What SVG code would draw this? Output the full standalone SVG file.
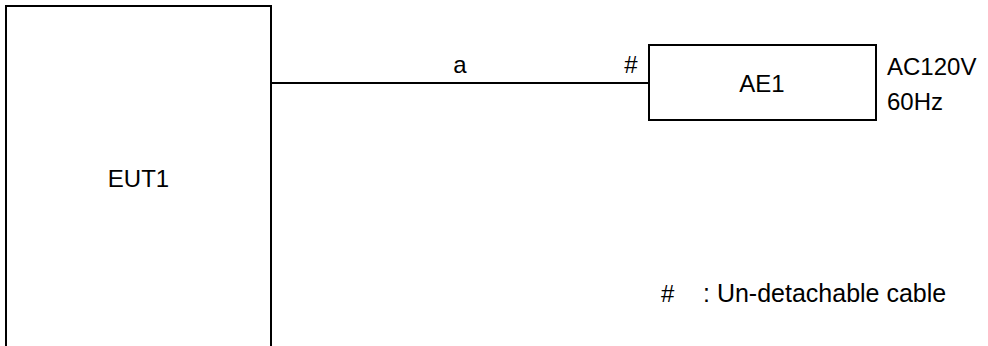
<svg xmlns="http://www.w3.org/2000/svg" width="988" height="346" viewBox="0 0 988 346">
  <style>
    .box { fill: #ffffff; stroke: #000000; stroke-width: 2; }
    .wire { fill: none; stroke: #000000; stroke-width: 2; }
    text { font-family: "Liberation Sans", Arial, sans-serif; font-size: 24px; fill: #000000; }
    .note { font-size: 25px; }
  </style>
  <rect width="988" height="346" fill="#ffffff"/>
  <g id="connectors">
    <line class="wire" x1="271" y1="83" x2="649" y2="83"/>
    <text x="460" y="73" text-anchor="middle">a</text>
    <text x="631" y="73" text-anchor="middle">#</text>
  </g>
  <g id="eut1">
    <rect class="box" x="6" y="6" width="265" height="360"/>
    <text x="138.5" y="187" text-anchor="middle">EUT1</text>
  </g>
  <g id="ae1">
    <rect class="box" x="649" y="45" width="227" height="75"/>
    <text x="762" y="92" text-anchor="middle">AE1</text>
  </g>
  <g id="power">
    <text x="887" y="75">AC120V</text>
    <text x="887" y="110">60Hz</text>
  </g>
  <g id="legend">
    <text x="661" y="302">#</text>
    <text class="note" x="703" y="302">: Un-detachable cable</text>
  </g>
</svg>
